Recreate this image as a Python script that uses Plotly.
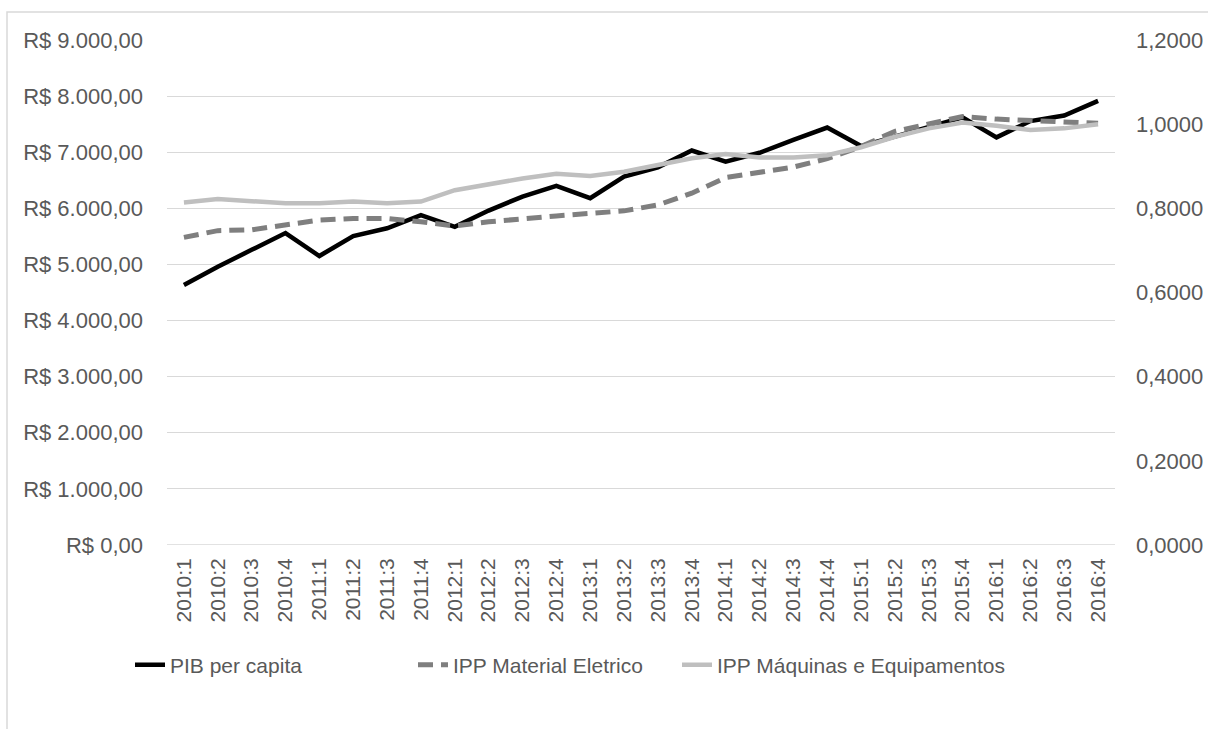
import plotly.graph_objects as go

# Quarterly periods
quarters = [
    "2010:1", "2010:2", "2010:3", "2010:4",
    "2011:1", "2011:2", "2011:3", "2011:4",
    "2012:1", "2012:2", "2012:3", "2012:4",
    "2013:1", "2013:2", "2013:3", "2013:4",
    "2014:1", "2014:2", "2014:3", "2014:4",
    "2015:1", "2015:2", "2015:3", "2015:4",
    "2016:1", "2016:2", "2016:3", "2016:4",
]

# GDP per capita (R$, left axis)
pib_per_capita = [
    4635, 4960, 5260, 5560,
    5150, 5505, 5645, 5880,
    5670, 5960, 6210, 6400,
    6180, 6565, 6730, 7030,
    6830, 6990, 7220, 7440,
    7110, 7280, 7440, 7620,
    7265, 7555, 7655, 7915,
]

# Producer price indices (right axis)
ipp_material_eletrico = [
    0.731, 0.747, 0.749, 0.762,
    0.772, 0.776, 0.776, 0.768,
    0.758, 0.768, 0.776, 0.782,
    0.788, 0.794, 0.808, 0.836,
    0.873, 0.886, 0.898, 0.918,
    0.947, 0.983, 1.001, 1.018,
    1.012, 1.009, 1.004, 1.002,
]
ipp_maquinas = [
    0.814, 0.822, 0.817, 0.812,
    0.812, 0.816, 0.812, 0.816,
    0.843, 0.858, 0.871, 0.882,
    0.877, 0.887, 0.903, 0.919,
    0.929, 0.921, 0.921, 0.926,
    0.945, 0.970, 0.990, 1.004,
    0.996, 0.986, 0.990, 1.000,
]

# Axis ticks
left_tick_values = [0, 1000, 2000, 3000, 4000, 5000, 6000, 7000, 8000, 9000]
left_tick_labels = [
    "R$ 0,00", "R$ 1.000,00", "R$ 2.000,00", "R$ 3.000,00", "R$ 4.000,00",
    "R$ 5.000,00", "R$ 6.000,00", "R$ 7.000,00", "R$ 8.000,00", "R$ 9.000,00",
]
right_tick_values = [0, 0.2, 0.4, 0.6, 0.8, 1.0, 1.2]
right_tick_labels = ["0,0000", "0,2000", "0,4000", "0,6000", "0,8000", "1,0000", "1,2000"]

FONT = "Liberation Sans"
TEXT = "#595959"
GRID = "#d9d9d9"

fig = go.Figure()

fig.add_trace(go.Scatter(
    x=quarters, y=pib_per_capita, name="PIB per capita", mode="lines",
    line=dict(color="#000000", width=4.5), yaxis="y", legend="legend",
))
fig.add_trace(go.Scatter(
    x=quarters, y=ipp_material_eletrico, name="IPP Material Eletrico", mode="lines",
    line=dict(color="#7f7f7f", width=5, dash="15px,8px"), yaxis="y2", legend="legend2",
))
fig.add_trace(go.Scatter(
    x=quarters, y=ipp_maquinas, name="IPP Máquinas e Equipamentos", mode="lines",
    line=dict(color="#bfbfbf", width=4.5), yaxis="y2", legend="legend3",
))

L, R, T, B = 167, 93, 40, 184
W, H = 1208, 729
pw = W - L - R
ph = H - T - B


def px_x(px):
    return (px - L) / pw


def px_y(py):
    return (H - B - py) / ph


legend_common = dict(
    orientation="h", yanchor="middle", xanchor="left",
    font=dict(family=FONT, size=21, color=TEXT),
    bgcolor="rgba(0,0,0,0)", itemwidth=30,
)

fig.update_layout(
    width=W, height=H,
    margin=dict(l=L, r=R, t=T, b=B, autoexpand=False),
    paper_bgcolor="white", plot_bgcolor="white",
    font=dict(family=FONT, color=TEXT),
    xaxis=dict(
        type="category", range=[-0.5, len(quarters) - 0.5],
        tickangle=-90, showgrid=False, zeroline=False,
        showline=False, ticks="", automargin=False,
        tickfont=dict(family=FONT, size=21, color=TEXT),
        ticklabelstandoff=8,
    ),
    yaxis=dict(
        range=[0, 9000], tickvals=left_tick_values, ticktext=left_tick_labels,
        showgrid=True, gridcolor=GRID, gridwidth=1.3, zeroline=False,
        showline=False, ticks="", automargin=False,
        tickfont=dict(family=FONT, size=22, color=TEXT),
        ticklabelstandoff=23,
    ),
    yaxis2=dict(
        range=[0, 1.2], tickvals=right_tick_values, ticktext=right_tick_labels,
        overlaying="y", side="right", showgrid=False, zeroline=False,
        showline=False, ticks="", automargin=False,
        tickfont=dict(family=FONT, size=22, color=TEXT),
        ticklabelstandoff=20,
    ),
    legend=dict(x=px_x(130), y=px_y(665), **legend_common),
    legend2=dict(x=px_x(413), y=px_y(665), **legend_common),
    legend3=dict(x=px_x(677), y=px_y(665), **legend_common),
    shapes=[
        # chart frame
        dict(type="rect", xref="paper", yref="paper",
             x0=px_x(7), x1=px_x(1400), y0=px_y(900), y1=px_y(12),
             line=dict(color=GRID, width=1.5), fillcolor="rgba(0,0,0,0)",
             layer="below"),
        # baseline gridline at zero
        dict(type="line", xref="paper", yref="y", x0=0, x1=1, y0=0, y1=0,
             line=dict(color=GRID, width=1.3), layer="below"),
    ],
    showlegend=True,
)

fig.write_html("out.html")
